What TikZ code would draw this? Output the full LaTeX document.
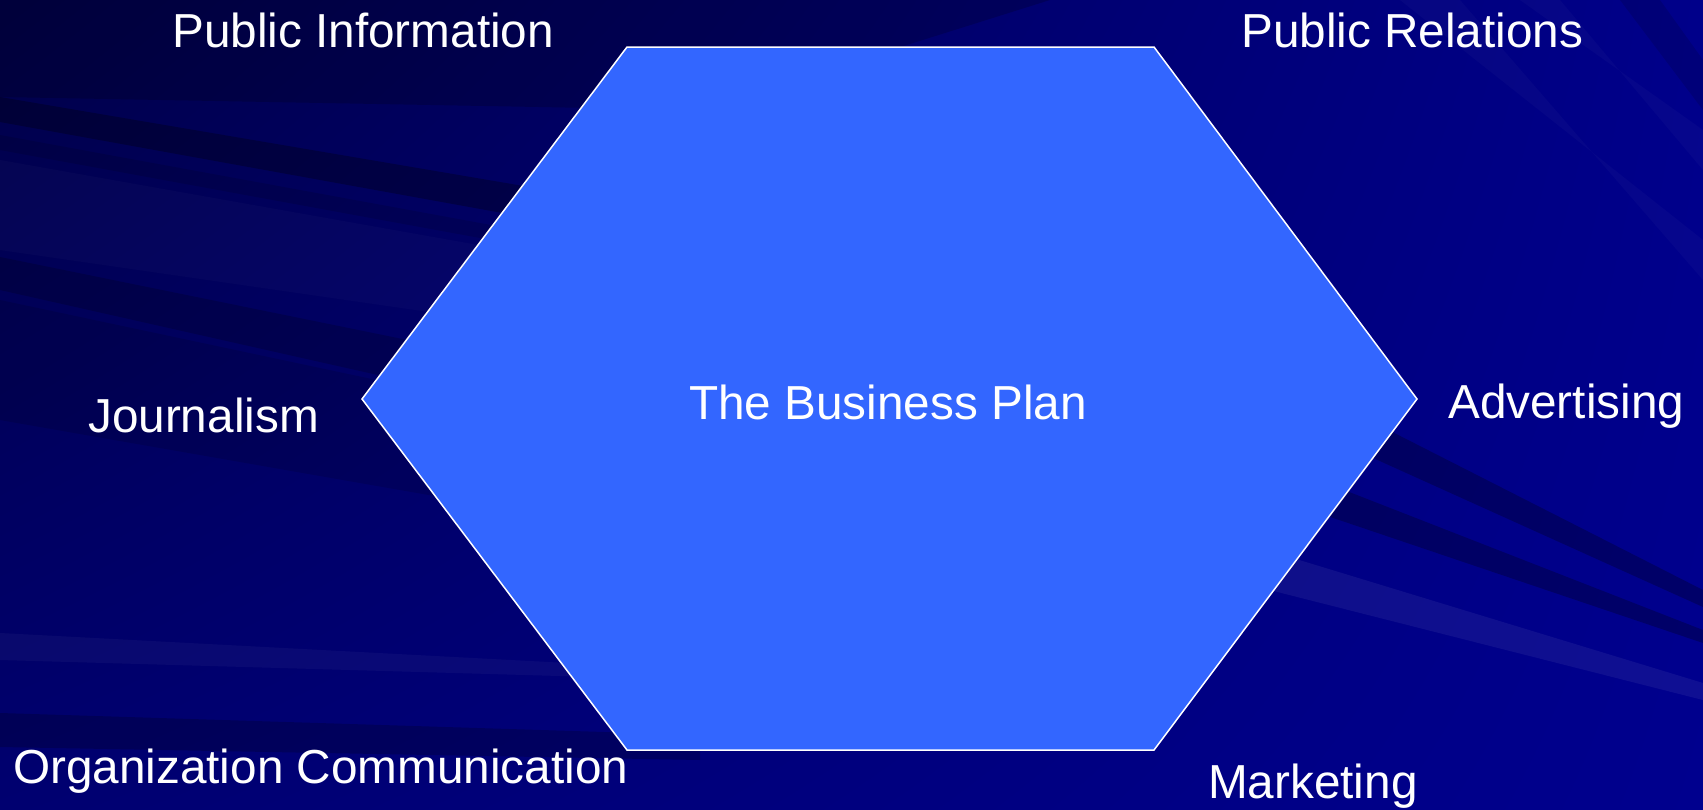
\documentclass[tikz,border=0pt]{standalone}
\usepackage{fontspec}
\setmainfont{Liberation Sans}
\usetikzlibrary{shadings}
\definecolor{bgUL}{RGB}{0,0,72}
\definecolor{bgUR}{RGB}{0,0,138}
\definecolor{bgLL}{RGB}{0,0,112}
\definecolor{bgLR}{RGB}{0,0,142}
\definecolor{hexfill}{RGB}{51,102,255}
\begin{document}
\begin{tikzpicture}[x=1pt,y=-1pt,
  lbl/.style={text=white, inner sep=0pt, anchor=base west, font=\fontsize{47.7}{57}\selectfont},
  darkband/.style={fill=black, draw=none},
  lightband/.style={fill=white, draw=none},
  hexbox/.style={fill=hexfill, draw=white, line width=1.5pt, line join=miter}]
\useasboundingbox (0,0) rectangle (1703,809);
% background
\shade[upper left=bgUL, upper right=bgUR, lower left=bgLL, lower right=bgLR] (0,0) rectangle (1703,809);
\begin{scope}
\clip (0,0) rectangle (1703,809);
\fill[darkband, opacity=.18] (0,0) -- (1050,0) -- (700,110) -- (0,97) -- cycle;
\fill[darkband, opacity=.28] (0,97) -- (900,250) -- (900,285) -- (0,122) -- cycle;
\fill[darkband, opacity=.12] (0,135) -- (900,300) -- (900,315) -- (0,150) -- cycle;
\fill[lightband, opacity=.02] (0,160) -- (900,320) -- (900,380) -- (0,250) -- cycle;
\fill[darkband, opacity=.18] (0,257) -- (800,420) -- (800,470) -- (0,290) -- cycle;
\fill[darkband, opacity=.12] (0,300) -- (800,470) -- (800,560) -- (0,420) -- cycle;
\fill[lightband, opacity=.035] (0,633) -- (700,670) -- (700,680) -- (0,660) -- cycle;
\fill[darkband, opacity=.2] (0,713) -- (700,735) -- (700,760) -- (0,747) -- cycle;
\fill[darkband, opacity=.25] (1300,385) -- (1703,590) -- (1703,607) -- (1300,425) -- cycle;
\fill[darkband, opacity=.25] (1280,465) -- (1703,630) -- (1703,643) -- (1280,500) -- cycle;
\fill[lightband, opacity=.06] (1250,545) -- (1703,683) -- (1703,700) -- (1250,585) -- cycle;
\fill[lightband, opacity=.025] (1400,0) -- (1460,0) -- (1703,280) -- (1703,240) -- cycle;
\fill[lightband, opacity=.025] (1520,0) -- (1560,0) -- (1703,170) -- (1703,130) -- cycle;
\fill[darkband, opacity=.12] (1620,0) -- (1660,0) -- (1703,60) -- (1703,110) -- cycle;
\end{scope}
% hexagon
\coordinate (tl) at (627,47);
\coordinate (tr) at (1154,47);
\coordinate (r) at (1417,399);
\coordinate (br) at (1154,750);
\coordinate (bl) at (627,750);
\coordinate (l) at (362,399);
\draw[hexbox] (tl) -- (tr) -- (r) -- (br) -- (bl) -- (l) -- cycle;
% labels
\node[lbl] (plan) at (689,419) {The Business Plan};
\node[lbl] (pubinfo) at (172,47) {Public Information};
\node[lbl] (pubrel) at (1241,47) {Public Relations};
\node[lbl] (journ) at (88,432) {Journalism};
\node[lbl] (advert) at (1448,418) {Advertising};
\node[lbl] (orgcom) at (13,783) {Organization Communication};
\node[lbl] (market) at (1208,798) {Marketing};
\end{tikzpicture}
\end{document}
